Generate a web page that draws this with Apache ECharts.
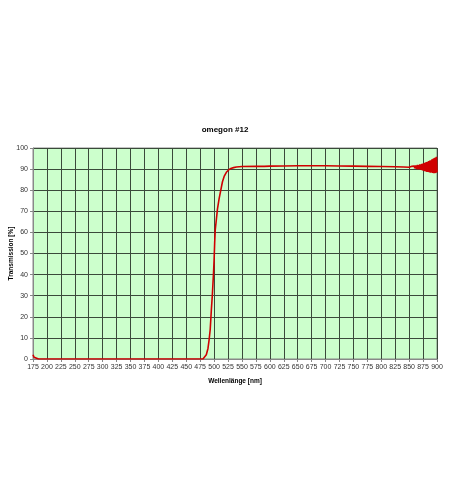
<!DOCTYPE html>
<html>
<head>
<meta charset="utf-8">
<script src="https://cdn.jsdelivr.net/npm/echarts@6/dist/echarts.min.js"></script>
<style>html,body{margin:0;padding:0;background:#fff}#c{width:450px;height:503px}</style>
</head>
<body>
<div id="c"></div>
<script>
var titleText = "omegon #12";
var xName = "Wellenlänge [nm]";
var yName = "Transmission [%]";
var wavelength = [175,177,180,185,200,250,300,350,400,450,480,483,486,489,491,493,494,495,497,499,500,501,502,504,506,509,512,515,518,522,526,530,535,540,550,575,590,591,592,593,600,601,602,603,625,650,675,700,725,750,775,800,825,840,850,
855,856,857,858,859,860,861,862,863,864,865,866,867,868,869,870,871,872,873,874,875,876,877,878,879,880,881,882,883,884,885,886,887,888,889,890,891,892,893,894,895,896,897,898,899,900];
var transmission = [2.0,0.8,0.2,0,0,0,0,0,0,0,0,0.3,2,5,9,14,18.5,23,31,41,47,55,61,66,71,76,80,84,86.5,88.5,89.6,90.3,90.7,91,91.2,91.3,91.3,90.4,91.8,91.3,91.4,90.5,92,91.4,91.5,91.6,91.6,91.6,91.5,91.4,91.3,91.2,91.1,91,90.9,
91.3,90.6,91.4,90.5,91.5,90.4,91.7,90.2,91.8,90.0,92.0,89.9,91.9,90.1,92.2,89.7,92.3,89.6,92.5,89.4,92.6,89.2,92.9,89.0,93.1,88.9,93.3,88.7,93.5,88.6,93.8,88.5,94.0,88.3,94.2,88.4,94.6,88.2,94.9,88.1,95.3,88.0,95.5,88.2,95.8,88.5];

var data = wavelength.map(function(w,i){return [w, transmission[i]];});
var chart = echarts.init(document.getElementById('c'), null, {renderer:'canvas'});
var font = 'Liberation Sans, Arial, sans-serif';
chart.setOption({
  animation:false,
  backgroundColor:'#ffffff',
  title:{text:titleText,left:'center',top:121,textStyle:{fontSize:8,fontWeight:'bold',color:'#000',fontFamily:font}},
  grid:{left:33,right:13,top:148,bottom:144,outerBoundsMode:'none',containLabel:false,show:true,backgroundColor:'#ccffcc',borderColor:'#888',borderWidth:1},
  xAxis:{type:'value',min:175,max:900,interval:25,
    name:xName,nameLocation:'middle',nameGap:19,nameMoveOverlap:false,
    nameTextStyle:{fontSize:6.5,fontWeight:'bold',color:'#000',fontFamily:font},
    axisLine:{show:true,lineStyle:{color:'#888',width:1}},
    axisTick:{show:true,length:3,lineStyle:{color:'#888'}},
    axisLabel:{fontSize:7,color:'#333',margin:5,fontFamily:font},
    splitLine:{show:true,lineStyle:{color:'#3a4a3a',width:1}}},
  yAxis:{type:'value',min:0,max:100,interval:10,
    name:yName,nameLocation:'middle',nameGap:18,nameMoveOverlap:false,
    nameTextStyle:{fontSize:6.5,fontWeight:'bold',color:'#000',fontFamily:font},
    axisLine:{show:true,lineStyle:{color:'#888',width:1}},
    axisTick:{show:true,length:3,lineStyle:{color:'#888'}},
    axisLabel:{fontSize:7,color:'#333',margin:5,fontFamily:font},
    splitLine:{show:true,lineStyle:{color:'#3a4a3a',width:1}}},
  series:[{type:'line',data:data,showSymbol:false,smooth:false,
    lineStyle:{color:'#d00000',width:1.6},itemStyle:{color:'#d00000'}}]
});
</script>
</body>
</html>
